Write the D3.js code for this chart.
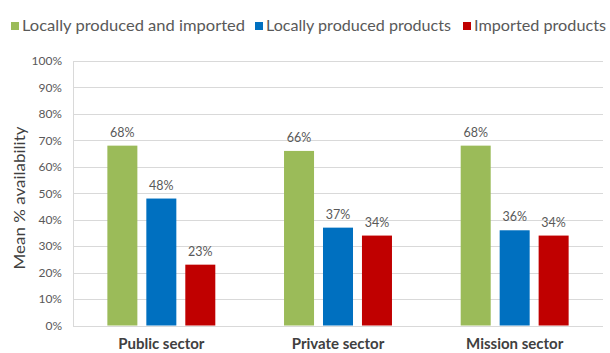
<!DOCTYPE html>
<html>
<head>
<meta charset="utf-8">
<script src="https://cdn.jsdelivr.net/npm/d3@7"></script>
<style>
  html, body { margin: 0; padding: 0; background: #fff; }
  svg { display: block; font-family: Lato, "Open Sans", sans-serif; }
</style>
</head>
<body>
<svg id="chart" width="610" height="353"></svg>
<script>
// Sectors on the x axis
const categories = ["Public sector", "Private sector", "Mission sector"];
// Series names and colours
const seriesNames = ["Locally produced and imported", "Locally produced products", "Imported products"];
const seriesColors = ["#9bbb59", "#0070c0", "#c00000"];
// Mean % availability per series, one value per sector
const localAndImported = [68, 66, 68];
const locallyProduced = [48, 37, 36];
const importedProducts = [23, 34, 34];
const seriesValues = [localAndImported, locallyProduced, importedProducts];
// Y axis ticks
const yTicks = [0, 10, 20, 30, 40, 50, 60, 70, 80, 90, 100];

const svg = d3.select("#chart");
const plot = { left: 73, right: 603, top: 61, bottom: 325.5 };

const x0 = d3.scaleBand().domain(categories)
  .range([plot.left, plot.right]).paddingInner(0.389).paddingOuter(0.1945);
const x1 = d3.scaleBand().domain(d3.range(seriesNames.length))
  .range([0, x0.bandwidth()]).paddingInner(0.23).paddingOuter(0);
const y = d3.scaleLinear().domain([0, 100]).range([plot.bottom, plot.top]);

// Gridlines
svg.append("g").selectAll("line").data(yTicks).join("line")
  .attr("x1", plot.left).attr("x2", plot.right)
  .attr("y1", d => Math.round(y(d)) + 0.5).attr("y2", d => Math.round(y(d)) + 0.5)
  .attr("stroke", "#d9d9d9").attr("stroke-width", 1);
// Left axis line
svg.append("line")
  .attr("x1", plot.left + 0.5).attr("x2", plot.left + 0.5)
  .attr("y1", Math.round(y(100)) + 0.5).attr("y2", Math.round(y(0)) + 0.5)
  .attr("stroke", "#d9d9d9");

// Y axis tick labels
const yAxis = d3.axisLeft(y).tickValues(yTicks).tickFormat(d => d + "%").tickSize(0).tickPadding(11);
const gy = svg.append("g").attr("transform", `translate(${plot.left},0)`).call(yAxis);
gy.select(".domain").remove();
gy.selectAll("text").attr("fill", "#595959").style("font-size", "12px")
  .style("font-family", "Lato, 'Open Sans', sans-serif");

// Category labels
const xAxis = d3.axisBottom(x0).tickSize(0).tickPadding(13);
const gx = svg.append("g").attr("transform", `translate(0,${plot.bottom})`).call(xAxis);
gx.select(".domain").remove();
gx.selectAll("text").attr("fill", "#404040").style("font-size", "15px")
  .style("font-weight", "bold").style("font-family", "Lato, 'Open Sans', sans-serif");

// Bars and value labels
const groups = svg.append("g").selectAll("g").data(categories).join("g")
  .attr("transform", d => `translate(${x0(d)},0)`);
const cells = groups.selectAll("g").data((c, ci) => seriesValues.map((vals, si) => ({ si, v: vals[ci] })))
  .join("g");
cells.append("rect")
  .attr("x", d => x1(d.si)).attr("width", x1.bandwidth())
  .attr("y", d => y(d.v)).attr("height", d => y(0) - y(d.v))
  .attr("fill", d => seriesColors[d.si]);
cells.append("text")
  .attr("x", d => x1(d.si) + x1.bandwidth() / 2).attr("y", d => y(d.v) - 9)
  .attr("text-anchor", "middle").attr("fill", "#595959").style("font-size", "12.5px")
  .text(d => d.v + "%");

// Y axis title
svg.append("text")
  .attr("transform", `translate(25,198) rotate(-90)`)
  .attr("text-anchor", "middle").attr("fill", "#404040").style("font-size", "16px")
  .attr("textLength", 143).attr("lengthAdjust", "spacingAndGlyphs")
  .text("Mean % availability");

// Legend
const legendX = [11, 255, 463];
const legendW = [223, 185, 132];
const lg = svg.append("g").selectAll("g").data(seriesNames).join("g")
  .attr("transform", (d, i) => `translate(${legendX[i]},22)`);
lg.append("rect").attr("width", 8).attr("height", 8).attr("fill", (d, i) => seriesColors[i]);
lg.append("text").attr("x", 11).attr("y", 8.5).attr("fill", "#595959").style("font-size", "15px")
  .attr("textLength", (d, i) => legendW[i]).attr("lengthAdjust", "spacingAndGlyphs")
  .text(d => d);
</script>
</body>
</html>
